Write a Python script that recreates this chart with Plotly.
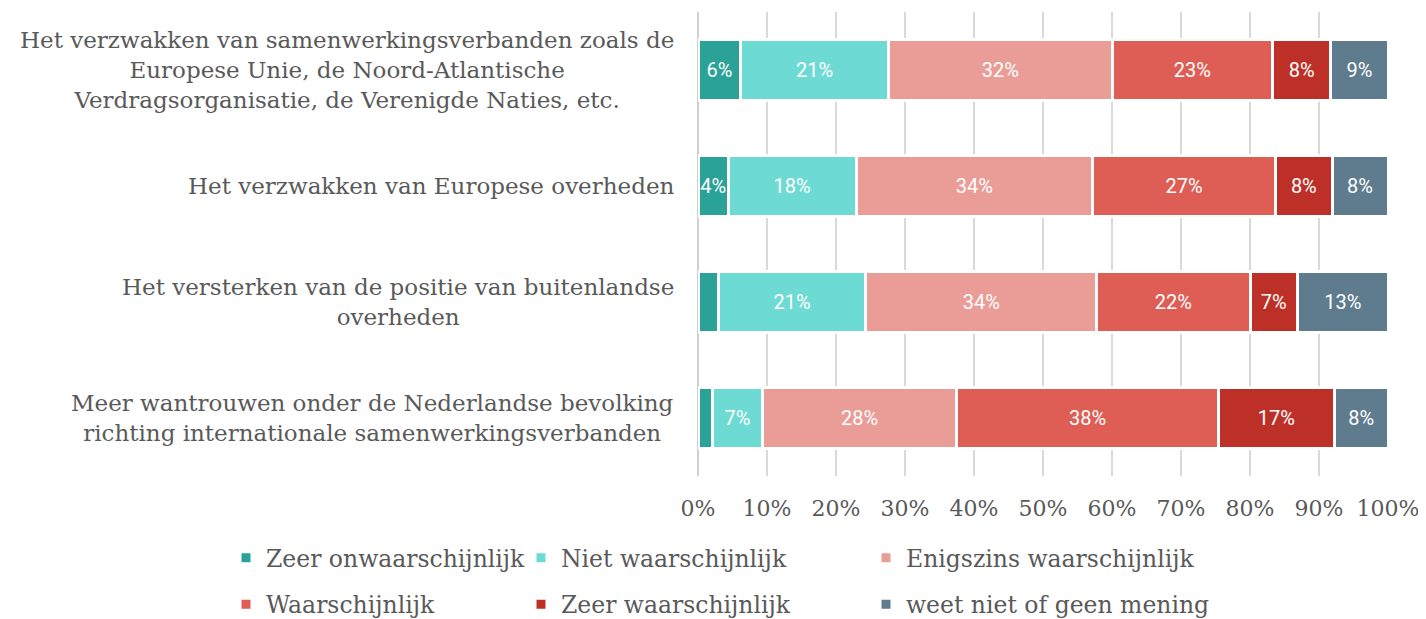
import plotly.graph_objects as go

categories = [
    "Het verzwakken van samenwerkingsverbanden zoals de<br>Europese Unie, de Noord-Atlantische<br>Verdragsorganisatie, de Verenigde Naties, etc.",
    "Het verzwakken van Europese overheden",
    "Het versterken van de positie van buitenlandse<br>overheden",
    "Meer wantrouwen onder de Nederlandse bevolking<br>richting internationale samenwerkingsverbanden",
]
series_names = [
    "Zeer onwaarschijnlijk",
    "Niet waarschijnlijk",
    "Enigszins waarschijnlijk",
    "Waarschijnlijk",
    "Zeer waarschijnlijk",
    "weet niet of geen mening",
]
# percentages per series, one value per category (top to bottom)
zeer_onwaarschijnlijk = [6.2, 4.4, 3.0, 2.1]
niet_waarschijnlijk = [21.4, 18.5, 21.3, 7.2]
enigszins_waarschijnlijk = [32.4, 34.3, 33.5, 28.2]
waarschijnlijk = [23.3, 26.5, 22.2, 37.9]
zeer_waarschijnlijk = [8.4, 8.2, 6.9, 16.8]
weet_niet = [8.3, 8.1, 13.1, 7.8]

# labels as printed on the bars
labels_zeer_onw = ["6%", "4%", "", ""]
labels_niet = ["21%", "18%", "21%", "7%"]
labels_enigszins = ["32%", "34%", "34%", "28%"]
labels_waarsch = ["23%", "27%", "22%", "38%"]
labels_zeer_w = ["8%", "8%", "7%", "17%"]
labels_weet = ["9%", "8%", "13%", "8%"]

tick_vals = [0, 10, 20, 30, 40, 50, 60, 70, 80, 90, 100]
tick_text = ["0%", "10%", "20%", "30%", "40%", "50%", "60%", "70%", "80%", "90%", "100%"]

colors = ["#2aa297", "#6ddbd3", "#ea9c96", "#de5d54", "#bd3028", "#5f7b8e"]
values = [zeer_onwaarschijnlijk, niet_waarschijnlijk, enigszins_waarschijnlijk,
          waarschijnlijk, zeer_waarschijnlijk, weet_niet]
texts = [labels_zeer_onw, labels_niet, labels_enigszins, labels_waarsch, labels_zeer_w, labels_weet]
legend_ids = ["legend", "legend2", "legend3", "legend", "legend2", "legend3"]

SERIF = "DejaVu Serif"
GREY = "#595959"

fig = go.Figure()
for i, name in enumerate(series_names):
    fig.add_trace(go.Bar(
        y=categories, x=values[i], name=name, orientation="h",
        marker=dict(color=colors[i], line=dict(color="white", width=3)),
        text=texts[i], textposition="inside", insidetextanchor="middle",
        textangle=0, textfont=dict(family="Roboto", size=20, color="white"),
        hoverinfo="skip", legend=legend_ids[i], legendgroup=name,
    ))

W, H = 1426, 619
# page body adds an 8px offset; margins compensate
L, R, T, B = 690, 46, 4, 151

legend_common = dict(
    orientation="v", xref="container", yref="container",
    xanchor="left", yanchor="top", tracegroupgap=13,
    font=dict(family=SERIF, size=23.5, color=GREY), bgcolor="rgba(0,0,0,0)",
    itemwidth=30,
)
ytop = 1 - 528 / H
fig.update_layout(
    width=W, height=H,
    margin=dict(l=L, r=R, t=T, b=B, autoexpand=False),
    barmode="stack", bargap=0.47,
    plot_bgcolor="white", paper_bgcolor="white",
    uniformtext=dict(minsize=20, mode="show"),
    xaxis=dict(range=[0, 100], tickvals=tick_vals, ticktext=tick_text,
               showgrid=True, gridcolor="#d9d9d9", gridwidth=2,
               zeroline=True, zerolinecolor="#d0d0d0", zerolinewidth=2,
               tickfont=dict(family=SERIF, size=22, color=GREY),
               ticks="", ticklabelstandoff=17, fixedrange=True, automargin=False),
    yaxis=dict(autorange="reversed", showticklabels=False, showgrid=False,
               zeroline=False, ticks="", fixedrange=True, automargin=False),
    legend=dict(legend_common, x=(260 - 42) / W, y=ytop),
    legend2=dict(legend_common, x=(555 - 42) / W, y=ytop),
    legend3=dict(legend_common, x=(900 - 42) / W, y=ytop),
    showlegend=True,
)

for cat in categories:
    fig.add_annotation(
        x=0, xref="paper", y=cat, yref="y", text=cat, showarrow=False,
        xanchor="right", yanchor="middle", align="center", xshift=-22,
        font=dict(family=SERIF, size=23, color=GREY),
    )

fig.write_html("out.html")
